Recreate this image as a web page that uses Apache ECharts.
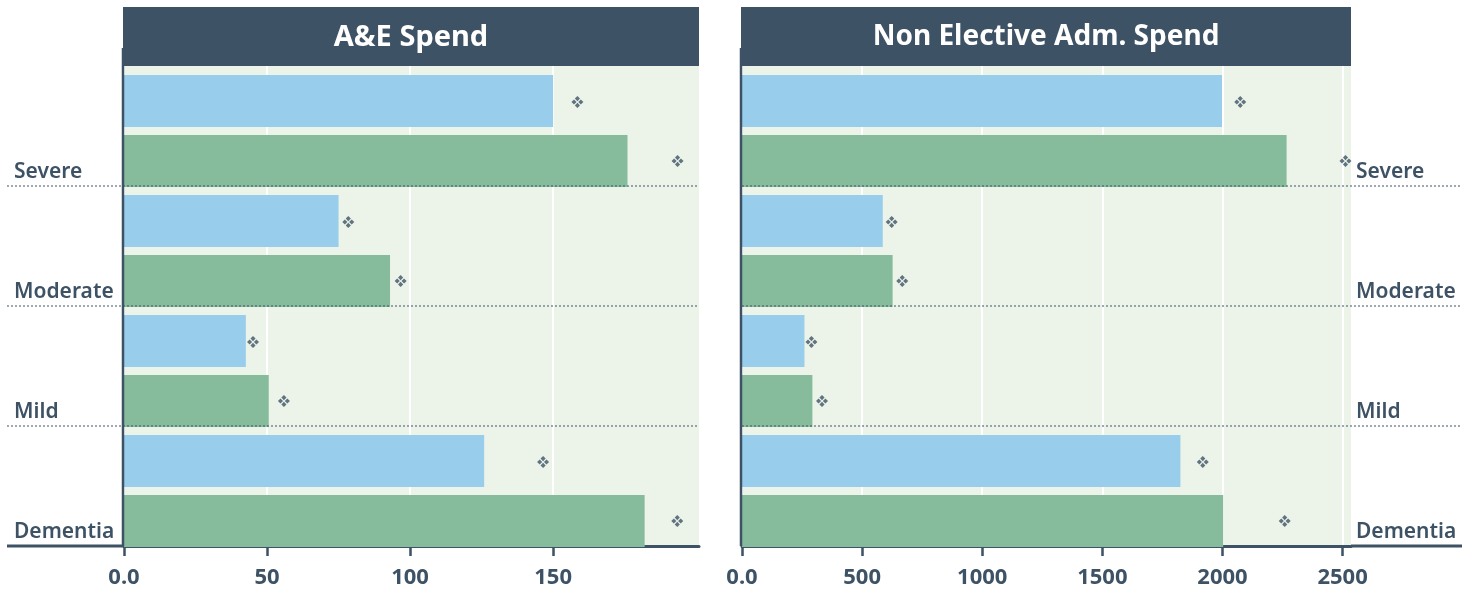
<!DOCTYPE html>
<html>
<head>
<meta charset="utf-8">
<script src="https://cdn.jsdelivr.net/npm/echarts@6/dist/echarts.min.js"></script>
<style>
  html, body { margin: 0; padding: 0; background: #ffffff; }
  #chart { width: 1472px; height: 593px; }
</style>
</head>
<body>
<div id="chart"></div>
<script>
// ---- data ----
const groups = ['Severe', 'Moderate', 'Mild', 'Dementia'];
const panelTitles = ['A&E Spend', 'Non Elective Adm. Spend'];

// A&E spend per group
const aeBlue = [150, 75, 42.6, 125.9];
const aeGreen = [176, 93, 50.6, 182];
const aeBlueMark = [158.5, 78.4, 45.1, 146.5];
const aeGreenMark = [193.5, 96.7, 55.9, 193.4];
const aeTicks = [0, 50, 100, 150];
const aeMax = 201;

// Non elective admission spend per group
const neBlue = [1998, 586, 260, 1825];
const neGreen = [2267, 627, 293, 2003];
const neBlueMark = [2074, 623, 289, 1918];
const neGreenMark = [2512, 667, 333, 2259];
const neTicks = [0, 500, 1000, 1500, 2000, 2500];
const neMax = 2535;

// ---- styling / layout ----
const DARK = '#3e5265';
const BLUE = '#98ceec';
const GREEN = '#86bc9b';
const PANEL_BG = '#ecf4e9';
const FONT = 'Noto Sans';

const TOP = 66, BOTTOM = 546, HEADER_TOP = 7;
const L = { left: 124, right: 699 };
const R = { left: 742, right: 1351 };
const BAND = (BOTTOM - TOP) / groups.length;

// four small rhombi arranged in a diamond
const DIAMOND = 'path://M0,-4.2L1.8,-2.4L0,-0.6L-1.8,-2.4Z' +
  'M0,0.6L1.8,2.4L0,4.2L-1.8,2.4Z' +
  'M-4.2,0L-2.4,-1.8L-0.6,0L-2.4,1.8Z' +
  'M0.6,0L2.4,-1.8L4.2,0L2.4,1.8Z';

// bars sit in the upper (slot 0) or lower (slot 1) part of each group band
function barRenderer(slot) {
  return function (params, api) {
    const v = api.value(0), c = api.value(1);
    const p0 = api.coord([0, c]);
    const p1 = api.coord([v, c]);
    const band = api.size([0, 1])[1];
    const top = p0[1] - band / 2;
    const y0 = top + band * (slot ? 69 / 120 : 9 / 120);
    const h = band * 52 / 120;
    return {
      type: 'rect',
      shape: { x: p0[0], y: y0, width: p1[0] - p0[0], height: h },
      style: { fill: api.visual('color') }
    };
  };
}

const pairs = arr => arr.map((v, i) => [v, i]);

function xAxisFor(grid, max, ticks) {
  return {
    type: 'value', gridIndex: grid, min: 0, max: max,
    axisLine: { show: true, lineStyle: { color: DARK, width: 3 } },
    axisTick: { show: true, customValues: ticks, length: 10, lineStyle: { color: DARK, width: 2.5 } },
    axisLabel: {
      customValues: ticks, margin: 21,
      color: DARK, fontFamily: FONT, fontWeight: 700, fontSize: 22,
      formatter: v => (v === 0 ? '0.0' : String(v))
    },
    splitLine: { show: true, lineStyle: { color: '#ffffff', width: 2 } }
  };
}

function catLabel(margin) {
  return {
    show: true, margin: margin, align: 'left', verticalAlign: 'top', lineHeight: 92,
    color: DARK, fontFamily: FONT, fontWeight: 600, fontSize: 21
  };
}

const seriesFor = (xi, yi, blue, green, blueMark, greenMark) => [
  { type: 'custom', xAxisIndex: xi, yAxisIndex: yi, renderItem: barRenderer(0),
    encode: { x: 0, y: 1 }, data: pairs(blue), itemStyle: { color: BLUE }, z: 2 },
  { type: 'custom', xAxisIndex: xi, yAxisIndex: yi, renderItem: barRenderer(1),
    encode: { x: 0, y: 1 }, data: pairs(green), itemStyle: { color: GREEN }, z: 2 },
  { type: 'scatter', xAxisIndex: xi, yAxisIndex: yi, data: pairs(blueMark),
    symbol: DIAMOND, symbolSize: 12, symbolOffset: [0, -24],
    itemStyle: { color: DARK }, z: 3, silent: true },
  { type: 'scatter', xAxisIndex: xi, yAxisIndex: yi, data: pairs(greenMark),
    symbol: DIAMOND, symbolSize: 12, symbolOffset: [0, 35],
    itemStyle: { color: DARK }, z: 3, silent: true }
];

// decorations: header strips, axis lines and dotted group separators
const graphics = [];
function hline(x1, x2, y, dashed, width) {
  graphics.push({
    type: 'line', z: 50,
    shape: { x1: x1, y1: y, x2: x2, y2: y },
    style: { stroke: DARK, lineWidth: width, lineDash: dashed ? [2, 2] : null }
  });
}
function vline(x, y1, y2) {
  graphics.push({
    type: 'line', z: 50,
    shape: { x1: x, y1: y1, x2: x, y2: y2 },
    style: { stroke: DARK, lineWidth: 2.5 }
  });
}
[[L, 123, 7, 699, 29], [R, 741, 742, 1462, 28]].forEach(([p, hx, sepL, sepR, fs], k) => {
  vline(hx, 48, BOTTOM);
  graphics.push({
    type: 'rect', z: 60,
    shape: { x: hx, y: HEADER_TOP, width: p.right - hx, height: TOP - HEADER_TOP },
    style: { fill: DARK }
  });
  graphics.push({
    type: 'text', z: 61,
    x: (hx + p.right) / 2, y: (HEADER_TOP + TOP) / 2 + 1,
    style: {
      text: panelTitles[k], fill: '#ffffff', font: '700 ' + fs + 'px "' + FONT + '"',
      textAlign: 'center', textVerticalAlign: 'middle'
    }
  });
  for (let i = 1; i < groups.length; i++) hline(sepL, sepR, TOP + BAND * i, true, 1);
});
hline(7, L.left, BOTTOM, false, 3);
hline(R.right, 1462, BOTTOM, false, 3);

const chart = echarts.init(document.getElementById('chart'), null, { renderer: 'canvas' });
chart.setOption({
  animation: false,
  backgroundColor: '#ffffff',
  textStyle: { fontFamily: FONT },
  grid: [
    { left: L.left, width: L.right - L.left, top: TOP, height: BOTTOM - TOP,
      show: true, backgroundColor: PANEL_BG, borderWidth: 0 },
    { left: R.left, width: R.right - R.left, top: TOP, height: BOTTOM - TOP,
      show: true, backgroundColor: PANEL_BG, borderWidth: 0 }
  ],
  xAxis: [xAxisFor(0, aeMax, aeTicks), xAxisFor(1, neMax, neTicks)],
  yAxis: [
    { type: 'category', gridIndex: 0, data: groups, inverse: true, position: 'left',
      axisLine: { show: false }, axisTick: { show: false }, splitLine: { show: false },
      axisLabel: catLabel(L.left - 14) },
    { type: 'category', gridIndex: 1, data: groups, inverse: true, position: 'right',
      axisLine: { show: false }, axisTick: { show: false }, splitLine: { show: false },
      axisLabel: catLabel(5) }
  ],
  series: [
    ...seriesFor(0, 0, aeBlue, aeGreen, aeBlueMark, aeGreenMark),
    ...seriesFor(1, 1, neBlue, neGreen, neBlueMark, neGreenMark)
  ],
  graphic: graphics
});
</script>
</body>
</html>
